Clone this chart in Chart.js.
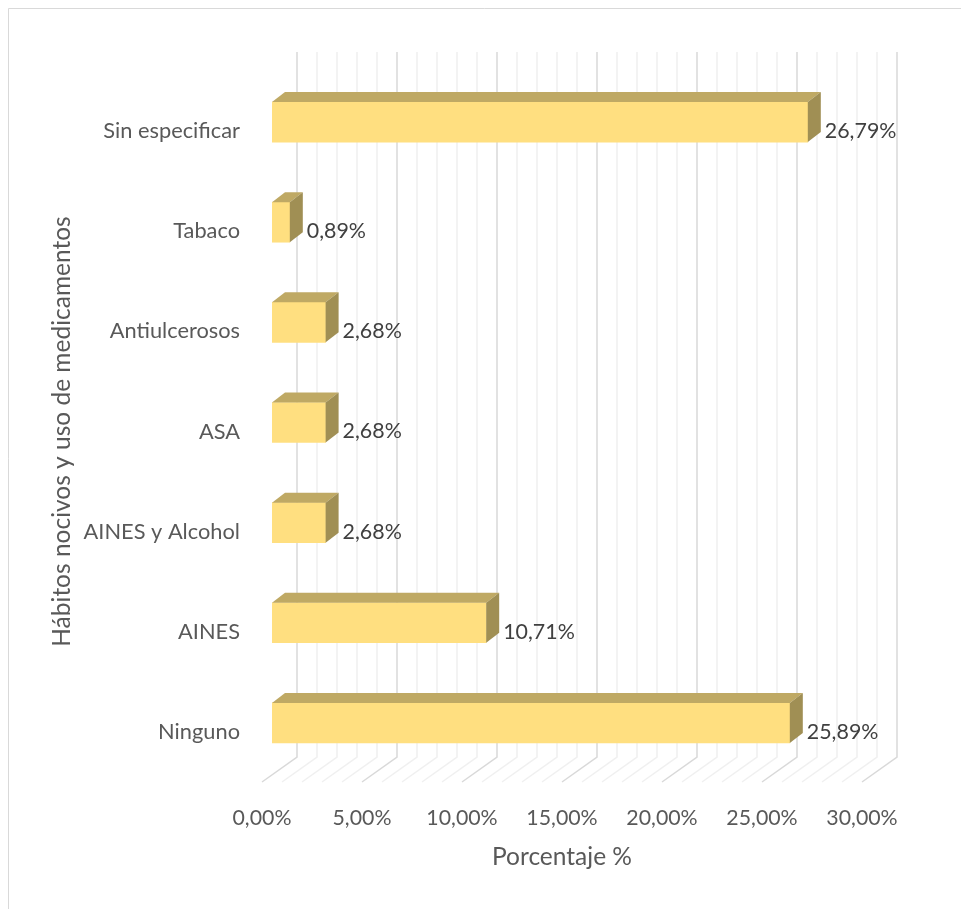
<!DOCTYPE html>
<html>
<head>
<meta charset="utf-8">
<script src="https://cdn.jsdelivr.net/npm/chart.js@4"></script>
<style>
html,body{margin:0;padding:0;background:#fff;}
canvas{display:block;}
</style>
</head>
<body>
<canvas id="c" width="961" height="909"></canvas>
<script>
const categories = ["Sin especificar", "Tabaco", "Antiulcerosos", "ASA", "AINES y Alcohol", "AINES", "Ninguno"];
const values = [26.79, 0.89, 2.68, 2.68, 2.68, 10.71, 25.89];
const axisMin = 0, axisMax = 30, majorStep = 5, minorStep = 1;
const xTitle = "Porcentaje %";
const yTitle = "Hábitos nocivos y uso de medicamentos";

const FONT = "Lato, 'Open Sans', sans-serif";
const fmt = v => v.toFixed(2).replace('.', ',') + '%';

// 3D geometry (pixels)
const BAR_DX = 10, BAR_DY = -9;      // front face offset from scale position
const DEPTH_X = 13, DEPTH_Y = -10;   // bar depth
const WALL_DX = 35, WALL_DY = -25;   // back wall offset from front floor edge

const frame3d = {
  id: 'frame3d',
  beforeDraw(chart) {
    const ctx = chart.ctx;
    ctx.save();
    ctx.fillStyle = '#fff';
    ctx.fillRect(0, 0, chart.width, chart.height);
    ctx.strokeStyle = '#d9d9d9';
    ctx.lineWidth = 1;
    ctx.beginPath();
    ctx.moveTo(8.5, chart.height); ctx.lineTo(8.5, 8.5); ctx.lineTo(chart.width, 8.5);
    ctx.stroke();
    ctx.restore();
  },
  beforeDatasetsDraw(chart) {
    const ctx = chart.ctx, xs = chart.scales.x, area = chart.chartArea;
    const wallTop = area.top - 29, wallBottom = area.bottom + WALL_DY;
    ctx.save();
    for (let v = axisMin; v <= axisMax + 1e-9; v += minorStep) {
      const major = Math.abs(v / majorStep - Math.round(v / majorStep)) < 1e-9;
      const x = xs.getPixelForValue(v);
      ctx.strokeStyle = major ? '#d9d9d9' : '#f0f0f0';
      ctx.lineWidth = 1.5;
      ctx.beginPath();
      ctx.moveTo(x + WALL_DX, wallTop);
      ctx.lineTo(x + WALL_DX, wallBottom);
      ctx.lineTo(x, area.bottom);
      ctx.stroke();
    }
    ctx.restore();
    ctx.save();
    ctx.translate(BAR_DX, BAR_DY);
  },
  afterDatasetsDraw(chart) {
    const ctx = chart.ctx;
    ctx.restore();
    const meta = chart.getDatasetMeta(0);
    ctx.save();
    meta.data.forEach((bar, i) => {
      const p = bar.getProps(['x', 'y', 'base', 'height'], true);
      const x0 = p.base + BAR_DX, x1 = p.x + BAR_DX;
      const top = p.y - p.height / 2 + BAR_DY, bottom = p.y + p.height / 2 + BAR_DY;
      // top face
      ctx.fillStyle = 'rgb(191,169,100)';
      ctx.beginPath();
      ctx.moveTo(x0, top);
      ctx.lineTo(x0 + DEPTH_X, top + DEPTH_Y);
      ctx.lineTo(x1 + DEPTH_X, top + DEPTH_Y);
      ctx.lineTo(x1, top);
      ctx.closePath();
      ctx.fill();
      // side face
      ctx.fillStyle = 'rgb(160,143,84)';
      ctx.beginPath();
      ctx.moveTo(x1, top);
      ctx.lineTo(x1 + DEPTH_X, top + DEPTH_Y);
      ctx.lineTo(x1 + DEPTH_X, bottom + DEPTH_Y);
      ctx.lineTo(x1, bottom);
      ctx.closePath();
      ctx.fill();
      // data label
      ctx.fillStyle = '#404040';
      ctx.font = '21.4px ' + FONT;
      ctx.textAlign = 'left';
      ctx.textBaseline = 'middle';
      ctx.fillText(fmt(values[i]), x1 + DEPTH_X + 4, p.y);
    });
    ctx.restore();
  }
};

new Chart(document.getElementById('c'), {
  type: 'bar',
  data: {
    labels: categories,
    datasets: [{
      data: values,
      backgroundColor: 'rgb(255,223,128)',
      borderWidth: 0,
      barThickness: 40
    }]
  },
  options: {
    indexAxis: 'y',
    responsive: false,
    animation: false,
    layout: { padding: { left: 0, top: 81, right: 99, bottom: 0 } },
    plugins: { legend: { display: false }, tooltip: { enabled: false } },
    scales: {
      x: {
        min: axisMin, max: axisMax,
        grid: { display: false, drawTicks: false },
        border: { display: false },
        ticks: { stepSize: majorStep, callback: v => fmt(v), color: '#595959', font: { family: FONT, size: 21.3 }, padding: 23, maxRotation: 0 },
        title: { display: true, text: xTitle, color: '#595959', font: { family: FONT, size: 24.5 }, padding: { top: 0, bottom: 37 } },
        afterFit(s) { s.height = 127; }
      },
      y: {
        grid: { display: false, drawTicks: false },
        border: { display: false },
        ticks: { color: '#595959', font: { family: FONT, size: 21.8 }, padding: 22 },
        title: { display: true, text: yTitle, color: '#595959', font: { family: FONT, size: 24.5 }, padding: { top: 47, bottom: 0 } },
        afterFit(s) { s.width = 262; }
      }
    }
  },
  plugins: [frame3d]
});
</script>
</body>
</html>
